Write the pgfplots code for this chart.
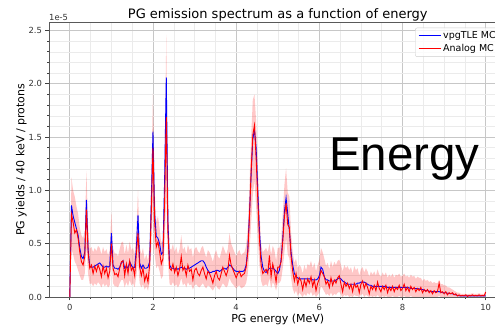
\documentclass[border=0pt]{standalone}
\usepackage{fontspec}
\setmainfont{DejaVu Sans}
\newfontfamily\arialfont{Liberation Sans}
\usepackage{pgfplots}
\pgfplotsset{compat=1.18}
\usepackage{pgfplotstable}
\usepgfplotslibrary{fillbetween}

\pgfplotstableread{
E B R lo hi
0.00 0.00 0.00 0.00 0.00
0.04 0.86 0.78 0.45 1.12
0.08 0.76 0.70 0.40 1.00
0.12 0.70 0.60 0.33 0.94
0.16 0.64 0.63 0.30 0.85
0.20 0.58 0.55 0.25 0.78
0.24 0.46 0.42 0.20 0.65
0.28 0.38 0.33 0.16 0.58
0.32 0.36 0.30 0.16 0.55
0.36 0.42 0.38 0.22 0.62
0.40 0.91 0.82 0.47 1.18
0.44 0.45 0.42 0.22 0.66
0.48 0.29 0.27 0.12 0.45
0.52 0.28 0.30 0.13 0.47
0.56 0.28 0.22 0.10 0.42
0.60 0.29 0.29 0.13 0.46
0.64 0.30 0.24 0.11 0.43
0.68 0.31 0.30 0.14 0.48
0.72 0.32 0.26 0.12 0.46
0.76 0.30 0.19 0.09 0.40
0.80 0.28 0.29 0.13 0.47
0.84 0.28 0.22 0.10 0.42
0.88 0.29 0.27 0.12 0.45
0.92 0.28 0.18 0.09 0.39
0.96 0.29 0.24 0.11 0.44
1.00 0.60 0.50 0.37 0.80
1.04 0.30 0.27 0.13 0.46
1.08 0.27 0.21 0.10 0.41
1.12 0.27 0.22 0.10 0.41
1.16 0.26 0.19 0.09 0.38
1.20 0.28 0.27 0.13 0.45
1.24 0.32 0.33 0.16 0.51
1.28 0.34 0.34 0.16 0.52
1.32 0.27 0.20 0.09 0.40
1.36 0.29 0.31 0.14 0.49
1.40 0.27 0.22 0.10 0.41
1.44 0.33 0.34 0.16 0.52
1.48 0.30 0.25 0.11 0.44
1.52 0.27 0.28 0.13 0.46
1.56 0.28 0.20 0.09 0.40
1.60 0.45 0.40 0.20 0.62
1.64 0.77 0.60 0.33 1.00
1.68 0.32 0.28 0.13 0.47
1.72 0.27 0.20 0.09 0.40
1.76 0.30 0.27 0.12 0.46
1.80 0.27 0.15 0.07 0.35
1.84 0.27 0.21 0.10 0.40
1.88 0.28 0.14 0.06 0.34
1.92 0.33 0.30 0.14 0.50
1.96 0.90 0.80 0.45 1.15
2.00 1.55 1.40 0.90 1.91
2.04 0.78 0.70 0.40 1.00
2.08 0.57 0.47 0.27 0.70
2.12 0.55 0.52 0.30 0.76
2.16 0.50 0.42 0.24 0.64
2.20 0.40 0.31 0.17 0.50
2.24 0.42 0.36 0.20 0.56
2.28 1.10 0.90 0.50 1.30
2.32 2.06 1.69 0.95 2.46
2.36 0.70 0.60 0.33 0.90
2.40 0.30 0.27 0.12 0.46
2.44 0.27 0.25 0.11 0.44
2.48 0.27 0.31 0.14 0.50
2.52 0.26 0.23 0.10 0.42
2.56 0.27 0.28 0.12 0.47
2.60 0.26 0.20 0.09 0.40
2.64 0.27 0.26 0.12 0.45
2.68 0.28 0.38 0.18 0.58
2.72 0.27 0.25 0.11 0.44
2.76 0.27 0.28 0.13 0.47
2.80 0.26 0.20 0.09 0.40
2.84 0.27 0.30 0.14 0.49
2.88 0.27 0.24 0.11 0.44
2.92 0.28 0.26 0.12 0.46
2.96 0.29 0.16 0.07 0.37
3.00 0.30 0.25 0.11 0.45
3.04 0.31 0.27 0.12 0.47
3.08 0.32 0.22 0.10 0.43
3.12 0.33 0.20 0.09 0.41
3.16 0.34 0.25 0.11 0.46
3.20 0.34 0.28 0.13 0.48
3.24 0.32 0.22 0.10 0.42
3.28 0.28 0.17 0.08 0.37
3.32 0.25 0.24 0.11 0.44
3.36 0.23 0.22 0.10 0.42
3.40 0.23 0.18 0.08 0.38
3.44 0.24 0.13 0.06 0.33
3.48 0.24 0.20 0.09 0.40
3.52 0.25 0.24 0.11 0.44
3.56 0.25 0.18 0.08 0.38
3.60 0.24 0.16 0.07 0.36
3.64 0.25 0.22 0.10 0.42
3.68 0.27 0.28 0.13 0.48
3.72 0.27 0.24 0.11 0.44
3.76 0.26 0.20 0.09 0.40
3.80 0.28 0.25 0.11 0.45
3.84 0.30 0.39 0.18 0.60
3.88 0.29 0.30 0.14 0.50
3.92 0.27 0.26 0.12 0.46
3.96 0.25 0.22 0.10 0.42
4.00 0.24 0.18 0.08 0.38
4.04 0.24 0.22 0.10 0.42
4.08 0.24 0.24 0.11 0.44
4.12 0.24 0.19 0.08 0.39
4.16 0.24 0.21 0.09 0.41
4.20 0.25 0.22 0.10 0.42
4.24 0.30 0.28 0.13 0.48
4.28 0.45 0.42 0.22 0.65
4.32 0.78 0.75 0.42 1.05
4.36 1.15 1.18 0.70 1.50
4.40 1.48 1.52 0.95 1.85
4.44 1.57 1.61 1.10 1.90
4.48 1.40 1.30 0.85 1.65
4.52 1.00 0.92 0.55 1.25
4.56 0.62 0.55 0.30 0.82
4.60 0.38 0.30 0.15 0.50
4.64 0.28 0.22 0.10 0.42
4.68 0.24 0.24 0.11 0.44
4.72 0.23 0.26 0.12 0.46
4.76 0.25 0.22 0.10 0.42
4.80 0.27 0.39 0.18 0.50
4.84 0.27 0.19 0.08 0.40
4.88 0.27 0.31 0.14 0.48
4.92 0.26 0.24 0.11 0.44
4.96 0.24 0.14 0.06 0.34
5.00 0.22 0.28 0.13 0.46
5.04 0.25 0.28 0.13 0.46
5.08 0.35 0.33 0.16 0.52
5.12 0.55 0.52 0.27 0.78
5.16 0.80 0.75 0.42 1.05
5.20 0.93 0.88 0.55 1.21
5.24 0.78 0.68 0.40 0.98
5.28 0.62 0.65 0.36 0.94
5.32 0.42 0.38 0.18 0.60
5.36 0.30 0.24 0.08 0.42
5.40 0.22 0.15 0.03 0.32
5.44 0.19 0.22 0.06 0.36
5.48 0.18 0.12 0.01 0.27
5.52 0.17 0.18 0.04 0.30
5.56 0.17 0.15 0.02 0.28
5.60 0.17 0.07 0.00 0.22
5.64 0.17 0.16 0.03 0.30
5.68 0.17 0.10 0.01 0.25
5.72 0.17 0.17 0.04 0.31
5.76 0.17 0.13 0.02 0.29
5.80 0.17 0.19 0.05 0.34
5.84 0.16 0.10 0.01 0.27
5.88 0.16 0.16 0.03 0.32
5.92 0.16 0.06 0.00 0.24
5.96 0.17 0.13 0.02 0.30
6.00 0.20 0.17 0.04 0.35
6.04 0.28 0.25 0.10 0.46
6.08 0.26 0.22 0.08 0.42
6.12 0.19 0.19 0.05 0.36
6.16 0.16 0.12 0.02 0.29
6.20 0.16 0.15 0.03 0.32
6.24 0.15 0.09 0.01 0.26
6.28 0.15 0.18 0.04 0.34
6.32 0.15 0.11 0.01 0.28
6.36 0.15 0.16 0.03 0.33
6.40 0.16 0.13 0.02 0.30
6.44 0.17 0.18 0.04 0.34
6.48 0.18 0.20 0.05 0.35
6.52 0.17 0.12 0.02 0.30
6.56 0.15 0.05 0.00 0.24
6.60 0.14 0.14 0.02 0.30
6.64 0.13 0.10 0.01 0.27
6.68 0.12 0.13 0.02 0.29
6.72 0.12 0.08 0.00 0.25
6.76 0.12 0.12 0.01 0.28
6.80 0.12 0.05 0.00 0.22
6.84 0.12 0.13 0.02 0.29
6.88 0.12 0.09 0.01 0.25
6.92 0.13 0.11 0.01 0.27
6.96 0.13 0.04 0.00 0.20
7.00 0.14 0.12 0.02 0.26
7.04 0.14 0.15 0.03 0.28
7.08 0.14 0.08 0.00 0.23
7.12 0.13 0.13 0.02 0.27
7.16 0.12 0.09 0.01 0.24
7.20 0.11 0.03 0.00 0.19
7.24 0.11 0.10 0.01 0.24
7.28 0.10 0.07 0.00 0.21
7.32 0.10 0.11 0.01 0.24
7.36 0.10 0.06 0.00 0.20
7.40 0.10 0.14 0.02 0.26
7.44 0.10 0.08 0.00 0.21
7.48 0.10 0.05 0.00 0.19
7.52 0.10 0.10 0.01 0.23
7.56 0.10 0.07 0.00 0.20
7.60 0.10 0.11 0.01 0.23
7.64 0.09 0.04 0.00 0.18
7.68 0.09 0.09 0.00 0.21
7.72 0.09 0.06 0.00 0.19
7.76 0.09 0.10 0.01 0.22
7.80 0.09 0.05 0.00 0.18
7.84 0.09 0.09 0.00 0.21
7.88 0.09 0.07 0.00 0.20
7.92 0.09 0.11 0.01 0.22
7.96 0.09 0.06 0.00 0.19
8.00 0.09 0.08 0.00 0.20
8.04 0.09 0.12 0.01 0.22
8.08 0.09 0.06 0.00 0.19
8.12 0.09 0.09 0.00 0.20
8.16 0.085 0.05 0.00 0.18
8.20 0.08 0.10 0.01 0.21
8.24 0.08 0.07 0.00 0.19
8.28 0.08 0.09 0.00 0.20
8.32 0.08 0.05 0.00 0.17
8.36 0.08 0.08 0.00 0.19
8.40 0.075 0.06 0.00 0.18
8.44 0.07 0.09 0.00 0.18
8.48 0.07 0.04 0.00 0.15
8.52 0.065 0.07 0.00 0.17
8.56 0.06 0.05 0.00 0.15
8.60 0.06 0.07 0.00 0.16
8.64 0.055 0.04 0.00 0.14
8.68 0.05 0.06 0.00 0.15
8.72 0.05 0.03 0.00 0.13
8.76 0.05 0.06 0.00 0.14
8.80 0.05 0.04 0.00 0.13
8.84 0.05 0.05 0.00 0.13
8.88 0.05 0.13 0.01 0.16
8.92 0.045 0.04 0.00 0.12
8.96 0.04 0.05 0.00 0.12
9.00 0.04 0.03 0.00 0.11
9.04 0.04 0.05 0.00 0.11
9.08 0.035 0.02 0.00 0.09
9.12 0.035 0.04 0.00 0.09
9.16 0.03 0.03 0.00 0.08
9.20 0.03 0.04 0.00 0.07
9.24 0.025 0.02 0.00 0.06
9.28 0.02 0.03 0.00 0.05
9.32 0.015 0.01 0.00 0.04
9.36 0.012 0.02 0.00 0.04
9.40 0.01 0.01 0.00 0.03
9.44 0.01 0.015 0.00 0.03
9.48 0.01 0.01 0.00 0.03
9.52 0.01 0.02 0.00 0.03
9.56 0.01 0.005 0.00 0.025
9.60 0.01 0.015 0.00 0.03
9.64 0.01 0.01 0.00 0.03
9.68 0.01 0.02 0.00 0.035
9.72 0.01 0.01 0.00 0.03
9.76 0.01 0.015 0.00 0.03
9.80 0.01 0.01 0.00 0.03
9.84 0.01 0.02 0.00 0.035
9.88 0.01 0.01 0.00 0.03
9.92 0.01 0.015 0.00 0.03
9.96 0.01 0.01 0.00 0.03
10.00 0.01 0.045 0.00 0.06
}\spectrum

\begin{document}
\begin{tikzpicture}
\begin{axis}[
  at={(0pt,0pt)}, anchor=south west,
  scale only axis, width=457.5pt, height=274.3pt,
  xmin=-0.5, xmax=10.5, ymin=0, ymax=2.573,
  xtick={0,2,4,6,8,10}, ytick={0,0.5,1,1.5,2,2.5},
  minor x tick num=3, minor y tick num=4,
  grid=both,
  major grid style={draw=black!22, line width=0.8pt},
  minor grid style={draw=black!8, line width=0.5pt},
  tick align=outside, tick pos=left,
  major tick length=3.5pt, minor tick length=2pt,
  every tick/.style={black!75, line width=0.7pt},
  axis line style={black!65, line width=0.9pt},
  ticklabel style={font=\fontsize{8.4}{10}\selectfont, text=black!80},
  /pgf/number format/assume math mode=true,
  yticklabel style={/pgf/number format/fixed, /pgf/number format/fixed zerofill, /pgf/number format/precision=1},
  title={PG emission spectrum as a function of energy},
  every axis title/.style={at={(axis description cs:0.5,1.016)}, anchor=base, inner sep=0pt, font=\fontsize{13}{15}\selectfont},
  xlabel={PG energy (MeV)},
  every axis x label/.style={at={(axis description cs:0.5,-0.0922)}, anchor=base, inner sep=0pt, font=\fontsize{11}{13}\selectfont},
  ylabel={PG yields / 40 keV / protons},
  every axis y label/.style={at={(axis description cs:-0.054,0.5)}, rotate=90, anchor=base, inner sep=0pt, font=\fontsize{11}{13}\selectfont},
  legend image code/.code={\draw[#1] (0pt,0pt) -- (22pt,0pt);},
  legend style={at={(1,1)}, anchor=north east, xshift=-5.5pt, yshift=-5pt,
    draw=black!20, rounded corners=2pt, fill=white, fill opacity=0.8, text opacity=1,
    font=\fontsize{9.5}{11}\selectfont, cells={anchor=west}, row sep=0.5pt,
    inner xsep=3pt, inner ysep=1.5pt,
    /tikz/every even column/.append style={column sep=6pt}},
]
\addplot[name path=hi, draw=none, forget plot] table[x=E, y=hi] {\spectrum};
\addplot[name path=lo, draw=none, forget plot] table[x=E, y=lo] {\spectrum};
\addplot[fill=red, fill opacity=0.22, draw=none, forget plot] fill between[of=hi and lo];
\addplot[blue, line width=0.9pt] table[x=E, y=B] {\spectrum};
\addlegendentry{vpgTLE MC}
\addplot[red, line width=0.9pt] table[x=E, y=R] {\spectrum};
\addlegendentry{Analog MC}
\node[anchor=base west, inner sep=0pt, font=\arialfont\fontsize{47.5}{50}\selectfont] at (axis cs:6.23,1.185) {Energy};
\end{axis}
\node[anchor=base west, inner sep=0pt, font=\fontsize{8.4}{10}\selectfont, text=black!80] at (0pt,276.6pt) {1e-5};
\pgfresetboundingbox
\path[use as bounding box] (-49pt,-29pt) rectangle (446pt,297pt);
\end{tikzpicture}
\end{document}
